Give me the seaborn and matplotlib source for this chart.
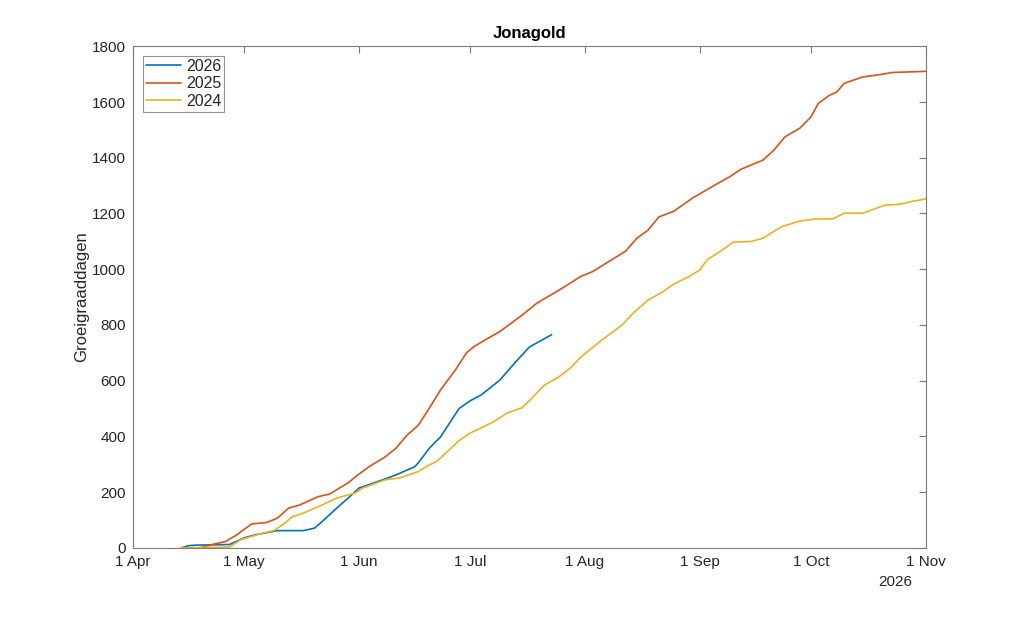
import matplotlib
matplotlib.use("Agg")
import matplotlib.pyplot as plt
import matplotlib.dates as mdates
import numpy as np
import pandas as pd
import seaborn as sns

# Day offsets from 1 April (plotted on a 2026 axis) and cumulative growing degree days
days_2026 = [13, 15, 17, 26, 30, 33, 39, 46, 49, 51, 55, 59, 61, 65, 69, 71, 76, 77, 80,
             83, 88, 91, 94, 99, 103, 107, 113]
gdd_2026 = [0, 8, 10, 12, 36, 47, 62, 62, 71, 94, 143, 190, 215, 233, 252, 262, 291, 305, 358,
            398, 500, 528, 549, 602, 663, 721, 765]

days_2025 = [13, 18, 21, 25, 28, 32, 36, 39, 42, 45, 50, 53, 58, 61, 64, 68, 71, 74, 77, 80,
             83, 87, 90, 92, 95, 99, 105, 109, 115, 121, 124, 133, 136, 139, 142, 146, 151,
             158, 161, 164, 170, 173, 176, 180, 183, 185, 188, 190, 192, 197, 202, 205, 214]
gdd_2025 = [0, 0, 11, 23, 47, 86, 91, 107, 143, 154, 184, 193, 233, 265, 294, 326, 358, 405,
            440, 502, 567, 638, 700, 722, 746, 776, 835, 878, 925, 975, 991, 1065, 1111, 1140,
            1188, 1208, 1255, 1309, 1331, 1358, 1391, 1427, 1475, 1506, 1546, 1595, 1624, 1636,
            1667, 1690, 1699, 1706, 1710]

days_2024 = [13, 26, 29, 32, 35, 38, 41, 43, 46, 51, 55, 60, 62, 68, 72, 77, 80, 82, 86, 88,
             91, 97, 101, 105, 107, 111, 115, 118, 121, 126, 132, 135, 139, 143, 146, 150, 153,
             155, 159, 162, 167, 170, 175, 180, 184, 189, 192, 197, 203, 207, 211, 214]
gdd_2024 = [0, 3, 29, 41, 53, 62, 89, 112, 125, 154, 179, 197, 215, 244, 251, 274, 298, 310,
            360, 385, 412, 450, 484, 503, 528, 584, 614, 645, 686, 740, 800, 842, 889, 919, 947,
            973, 997, 1034, 1068, 1097, 1100, 1111, 1152, 1173, 1180, 1181, 1201, 1201, 1230,
            1233, 1245, 1252]

series_names = ["2026", "2025", "2024"]
series_colors = ["#0072BD", "#D95319", "#EDB120"]

start = pd.Timestamp("2026-04-01")
frames = []
for name, d, v in [("2026", days_2026, gdd_2026), ("2025", days_2025, gdd_2025),
                   ("2024", days_2024, gdd_2024)]:
    frames.append(pd.DataFrame({"date": start + pd.to_timedelta(d, unit="D"),
                                "gdd": v, "jaar": name}))
df = pd.concat(frames, ignore_index=True)

sns.set_style("white")
plt.rcParams["font.family"] = ["Liberation Sans", "DejaVu Sans"]

fig = plt.figure(figsize=(10.24, 6.17), dpi=100)
ax = fig.add_axes([0.13, 0.112, 0.774, 0.813])

sns.lineplot(data=df, x="date", y="gdd", hue="jaar", hue_order=series_names,
             palette=series_colors, linewidth=1.2, ax=ax, estimator=None, sort=False)

ax.set_xlim(pd.Timestamp("2026-04-01"), pd.Timestamp("2026-11-01"))
ax.set_ylim(0, 1800)
ax.set_yticks(np.arange(0, 1801, 200))
ax.xaxis.set_major_locator(mdates.MonthLocator(bymonthday=1))
ax.xaxis.set_major_formatter(mdates.DateFormatter("%-d %b"))

text_col = "#262626"
edge_col = "#7a7a7a"
for sp in ax.spines.values():
    sp.set_visible(True)
    sp.set_color(edge_col)
    sp.set_linewidth(0.8)
ax.tick_params(direction="in", top=True, right=True, length=5, width=0.8,
               color=edge_col, labelcolor=text_col, labelsize=11, pad=5)

ax.set_xlabel("")
ax.set_ylabel("Groeigraaddagen", fontsize=12, color=text_col, labelpad=2)
ax.set_title("Jonagold", fontsize=12, fontweight="bold", color="#000000", pad=6)

ax.annotate("2026", xy=(1, 0), xycoords="axes fraction", xytext=(-13, -27),
            textcoords="offset pixels", ha="right", va="top", fontsize=11, color=text_col)

leg = ax.legend(loc="upper left", fontsize=11.5, frameon=True, fancybox=False,
                borderpad=0.2, labelspacing=0.15, handlelength=2.2, handletextpad=0.3,
                borderaxespad=0.6)
leg.get_frame().set_edgecolor(edge_col)
leg.get_frame().set_linewidth(0.8)
for t in leg.get_texts():
    t.set_color(text_col)

fig.savefig("out.png", dpi=100, facecolor="white")
